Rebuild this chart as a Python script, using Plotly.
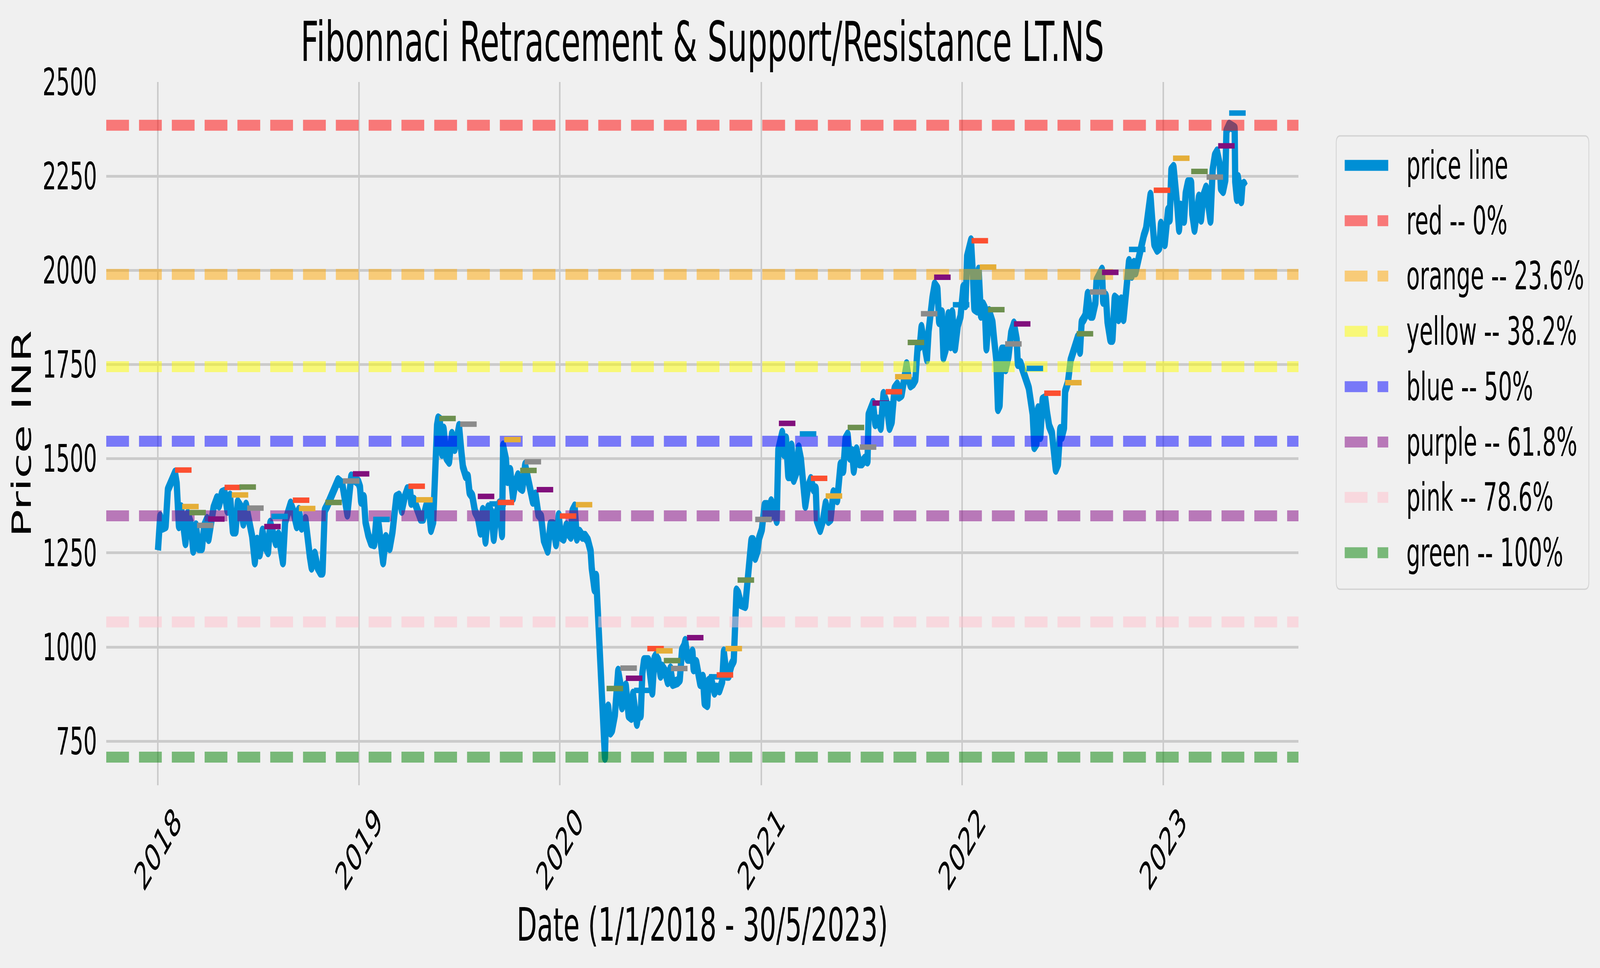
import pandas as pd
import plotly.graph_objects as go

# LT.NS closing price (INR)
price_dates = [
    "2018-01-01", "2018-01-03", "2018-01-05", "2018-01-09", "2018-01-15", "2018-01-19", "2018-01-26",
    "2018-02-01", "2018-02-04", "2018-02-06", "2018-02-08", "2018-02-12", "2018-02-17", "2018-02-20",
    "2018-02-24", "2018-03-01", "2018-03-06", "2018-03-11", "2018-03-16", "2018-03-22", "2018-03-26",
    "2018-03-31", "2018-04-03", "2018-04-07", "2018-04-12", "2018-04-18", "2018-04-22", "2018-04-27",
    "2018-05-02", "2018-05-07", "2018-05-12", "2018-05-17", "2018-05-22", "2018-05-26", "2018-05-31",
    "2018-06-05", "2018-06-10", "2018-06-15", "2018-06-21", "2018-06-26", "2018-06-30", "2018-07-05",
    "2018-07-10", "2018-07-15", "2018-07-20", "2018-07-24", "2018-07-29", "2018-08-03", "2018-08-08",
    "2018-08-16", "2018-08-20", "2018-08-25", "2018-08-30", "2018-09-04", "2018-09-10", "2018-09-14",
    "2018-09-19", "2018-09-26", "2018-09-30", "2018-10-04", "2018-10-07", "2018-10-13", "2018-10-18",
    "2018-10-23", "2018-10-27", "2018-10-31", "2018-11-05", "2018-11-10", "2018-11-17", "2018-11-24",
    "2018-12-02", "2018-12-07", "2018-12-11", "2018-12-18", "2018-12-24", "2018-12-31",
    "2019-01-03", "2019-01-05", "2019-01-10", "2019-01-13", "2019-01-18", "2019-01-23", "2019-01-29",
    "2019-02-01", "2019-02-06", "2019-02-11", "2019-02-14", "2019-02-19", "2019-02-26", "2019-03-03",
    "2019-03-07", "2019-03-10", "2019-03-15", "2019-03-20", "2019-03-25", "2019-03-30", "2019-04-04",
    "2019-04-06", "2019-04-11", "2019-04-16", "2019-04-23", "2019-04-28", "2019-05-03", "2019-05-08",
    "2019-05-12", "2019-05-16", "2019-05-18", "2019-05-20", "2019-05-23", "2019-05-25", "2019-05-28",
    "2019-06-01", "2019-06-04", "2019-06-09", "2019-06-14", "2019-06-19", "2019-06-24", "2019-06-29",
    "2019-07-02", "2019-07-06", "2019-07-09", "2019-07-14", "2019-07-18", "2019-07-21", "2019-07-26",
    "2019-07-31", "2019-08-05", "2019-08-10", "2019-08-14", "2019-08-19", "2019-08-24", "2019-08-29",
    "2019-09-03", "2019-09-08", "2019-09-13", "2019-09-18", "2019-09-20", "2019-09-25", "2019-09-28",
    "2019-10-03", "2019-10-08", "2019-10-12", "2019-10-17", "2019-10-21", "2019-10-25", "2019-10-30",
    "2019-11-04", "2019-11-09", "2019-11-13", "2019-11-18", "2019-11-23", "2019-11-28", "2019-12-03",
    "2019-12-10", "2019-12-15", "2019-12-20", "2019-12-25", "2019-12-30",
    "2020-01-03", "2020-01-08", "2020-01-13", "2020-01-18", "2020-01-21", "2020-01-24", "2020-01-28",
    "2020-02-01", "2020-02-06", "2020-02-11", "2020-02-16", "2020-02-21", "2020-02-26", "2020-02-28",
    "2020-03-02", "2020-03-04", "2020-03-07", "2020-03-09", "2020-03-12", "2020-03-14", "2020-03-18",
    "2020-03-20", "2020-03-23", "2020-03-25", "2020-03-29", "2020-04-02", "2020-04-05", "2020-04-10",
    "2020-04-14", "2020-04-16", "2020-04-20", "2020-04-23", "2020-04-26", "2020-04-30", "2020-05-05",
    "2020-05-10", "2020-05-13", "2020-05-17", "2020-05-20", "2020-05-23", "2020-05-27", "2020-05-30",
    "2020-06-02", "2020-06-10", "2020-06-13", "2020-06-17", "2020-06-21", "2020-06-23", "2020-06-28",
    "2020-07-02", "2020-07-05", "2020-07-10", "2020-07-15", "2020-07-20", "2020-07-24", "2020-07-28",
    "2020-08-02", "2020-08-06", "2020-08-10", "2020-08-14", "2020-08-16", "2020-08-20", "2020-08-24",
    "2020-08-29", "2020-08-31", "2020-09-05", "2020-09-09", "2020-09-12", "2020-09-17", "2020-09-20",
    "2020-09-25", "2020-09-27", "2020-10-02", "2020-10-08", "2020-10-12", "2020-10-17", "2020-10-22",
    "2020-10-25", "2020-10-30", "2020-11-03", "2020-11-08", "2020-11-12", "2020-11-14", "2020-11-17",
    "2020-11-20", "2020-11-25", "2020-12-03", "2020-12-06", "2020-12-10", "2020-12-14", "2020-12-17",
    "2020-12-21", "2020-12-25", "2020-12-28",
    "2021-01-02", "2021-01-07", "2021-01-12", "2021-01-17", "2021-01-19", "2021-01-24", "2021-01-29",
    "2021-02-01", "2021-02-03", "2021-02-08", "2021-02-11", "2021-02-15", "2021-02-19", "2021-02-23",
    "2021-02-25", "2021-03-01", "2021-03-06", "2021-03-10", "2021-03-14", "2021-03-18", "2021-03-22",
    "2021-03-27", "2021-04-01", "2021-04-06", "2021-04-10", "2021-04-12", "2021-04-18", "2021-04-23",
    "2021-04-28", "2021-05-03", "2021-05-07", "2021-05-12", "2021-05-19", "2021-05-25", "2021-05-30",
    "2021-06-03", "2021-06-07", "2021-06-11", "2021-06-15", "2021-06-18", "2021-06-23", "2021-06-28",
    "2021-07-03", "2021-07-08", "2021-07-13", "2021-07-15", "2021-07-19", "2021-07-23", "2021-07-27",
    "2021-08-01", "2021-08-06", "2021-08-11", "2021-08-16", "2021-08-22", "2021-08-26", "2021-08-31",
    "2021-09-05", "2021-09-08", "2021-09-13", "2021-09-17", "2021-09-22", "2021-09-26", "2021-09-29",
    "2021-10-04", "2021-10-08", "2021-10-12", "2021-10-16", "2021-10-19", "2021-10-24", "2021-10-29",
    "2021-11-01", "2021-11-05", "2021-11-08", "2021-11-12", "2021-11-17", "2021-11-20", "2021-11-25",
    "2021-11-28", "2021-12-02", "2021-12-07", "2021-12-11", "2021-12-14", "2021-12-19", "2021-12-24",
    "2021-12-29",
    "2022-01-03", "2022-01-07", "2022-01-10", "2022-01-14", "2022-01-17", "2022-01-20", "2022-01-23",
    "2022-01-28", "2022-01-31", "2022-02-04", "2022-02-08", "2022-02-11", "2022-02-14", "2022-02-19",
    "2022-02-25", "2022-02-28", "2022-03-04", "2022-03-07", "2022-03-10", "2022-03-14", "2022-03-18",
    "2022-03-21", "2022-03-26", "2022-03-31", "2022-04-05", "2022-04-10", "2022-04-12", "2022-04-17",
    "2022-04-22", "2022-04-26", "2022-04-30", "2022-05-02", "2022-05-06", "2022-05-09", "2022-05-12",
    "2022-05-16", "2022-05-19", "2022-05-23", "2022-05-27", "2022-06-01", "2022-06-04", "2022-06-08",
    "2022-06-13", "2022-06-17", "2022-06-20", "2022-06-24", "2022-06-28", "2022-07-01", "2022-07-05",
    "2022-07-07", "2022-07-12", "2022-07-17", "2022-07-22", "2022-07-26", "2022-07-30", "2022-08-03",
    "2022-08-06", "2022-08-10", "2022-08-13", "2022-08-17", "2022-08-22", "2022-08-26", "2022-08-31",
    "2022-09-02", "2022-09-07", "2022-09-12", "2022-09-14", "2022-09-19", "2022-09-22", "2022-09-27",
    "2022-10-01", "2022-10-05", "2022-10-09", "2022-10-12", "2022-10-17", "2022-10-21", "2022-10-26",
    "2022-10-31", "2022-11-05", "2022-11-09", "2022-11-12", "2022-11-17", "2022-11-22", "2022-11-27",
    "2022-12-01", "2022-12-05", "2022-12-09", "2022-12-12", "2022-12-16", "2022-12-21", "2022-12-25",
    "2022-12-28", "2022-12-31",
    "2023-01-04", "2023-01-06", "2023-01-10", "2023-01-13", "2023-01-16", "2023-01-20", "2023-01-24",
    "2023-01-27", "2023-01-30", "2023-02-02", "2023-02-06", "2023-02-08", "2023-02-11", "2023-02-15",
    "2023-02-21", "2023-02-23", "2023-02-27", "2023-03-03", "2023-03-07", "2023-03-11", "2023-03-15",
    "2023-03-20", "2023-03-26", "2023-03-28", "2023-04-01", "2023-04-05", "2023-04-09", "2023-04-14",
    "2023-04-16", "2023-04-20", "2023-04-24", "2023-04-26", "2023-05-01", "2023-05-07", "2023-05-11",
    "2023-05-12", "2023-05-15", "2023-05-17", "2023-05-20", "2023-05-23", "2023-05-25", "2023-05-28",
    "2023-05-30",
]
price_close = [
    1257, 1318, 1346, 1318, 1322, 1418, 1445,
    1462, 1435, 1332, 1322, 1370, 1281, 1277,
    1353, 1332, 1257, 1322, 1264, 1264, 1322,
    1339, 1288, 1322, 1370, 1394, 1377, 1408,
    1411, 1363, 1401, 1308, 1308, 1384, 1373,
    1329, 1377, 1339, 1295, 1226, 1284, 1247,
    1308, 1267, 1253, 1329, 1308, 1277, 1298,
    1226, 1332, 1360, 1380, 1360, 1322, 1363,
    1318, 1339, 1267, 1240, 1212, 1247, 1212,
    1199, 1199, 1363, 1377, 1397, 1425, 1442,
    1432, 1370, 1353, 1452, 1445, 1438,
    1425, 1387, 1397, 1332, 1298, 1277, 1274,
    1329, 1325, 1247, 1226, 1291, 1264, 1305,
    1366, 1397, 1401, 1363, 1397, 1418, 1418,
    1384, 1390, 1366, 1342, 1342, 1373, 1373,
    1312, 1332, 1452, 1486, 1589, 1606, 1603,
    1514, 1579, 1503, 1493, 1565, 1527, 1562,
    1586, 1521, 1479, 1455, 1452, 1411, 1401,
    1360, 1346, 1305, 1363, 1281, 1370, 1360,
    1288, 1356, 1380, 1298, 1534, 1500, 1442,
    1469, 1397, 1435, 1455, 1425, 1421, 1483,
    1445, 1421, 1387, 1404, 1353, 1346, 1284,
    1257, 1325, 1325, 1274, 1349,
    1294, 1289, 1322, 1300, 1294, 1361, 1372,
    1289, 1305, 1294, 1294, 1283, 1255, 1210,
    1182, 1154, 1188, 1121, 1115, 1015, 869,
    752, 707, 830, 841, 774, 780, 819,
    897, 936, 903, 841, 869, 897, 819,
    813, 875, 819, 797, 824, 819, 931,
    964, 964, 925, 880, 970, 975, 964,
    925, 947, 936, 908, 942, 903, 903,
    908, 914, 992, 1003, 1015, 970, 970,
    987, 942, 959, 914, 903, 920, 852,
    847, 908, 914, 880, 891, 886, 908,
    987, 925, 925, 953, 964, 1037, 1149,
    1143, 1115, 1110, 1177, 1221, 1283, 1283,
    1238, 1255, 1289,
    1312, 1376, 1376, 1346, 1386, 1366, 1336,
    1524, 1534, 1568, 1514, 1553, 1455, 1455,
    1534, 1445, 1465, 1529, 1499, 1410, 1376,
    1425, 1445, 1420, 1420, 1336, 1312, 1336,
    1381, 1336, 1341, 1410, 1391, 1484, 1469,
    1553, 1563, 1504, 1519, 1469, 1524, 1489,
    1489, 1499, 1494, 1617, 1632, 1647, 1593,
    1603, 1583, 1671, 1652, 1583, 1598, 1686,
    1696, 1666, 1671, 1711, 1750, 1711, 1696,
    1701, 1711, 1795, 1800, 1849, 1790, 1765,
    1839, 1908, 1928, 1962, 1952, 1864, 1888,
    1770, 1790, 1883, 1800, 1888, 1794, 1854,
    1878,
    1955, 1909, 2038, 2075, 2079, 2001, 1900,
    1895, 2001, 1881, 1909, 1900, 1794, 1891,
    1863, 1817, 1762, 1633, 1642, 1789, 1789,
    1739, 1771, 1835, 1858, 1817, 1753, 1753,
    1725, 1720, 1697, 1688, 1660, 1619, 1532,
    1541, 1633, 1559, 1656, 1660, 1624, 1587,
    1569, 1504, 1472, 1486, 1578, 1559, 1582,
    1679, 1702, 1762, 1789, 1817, 1822, 1785,
    1863, 1872, 1881, 1937, 1881, 1881, 1914,
    1973, 1987, 2001, 1918, 1932, 1863, 1817,
    1817, 1927, 1922, 1872, 1922, 1872, 1946,
    2024, 1987, 2019, 1996, 2033, 2065, 2093,
    2111, 2180, 2200, 2140, 2070, 2056, 2061,
    2123, 2112,
    2071, 2119, 2160, 2136, 2267, 2274, 2226,
    2167, 2109, 2171, 2157, 2133, 2205, 2233,
    2233, 2150, 2109, 2164, 2195, 2136, 2198,
    2219, 2150, 2133, 2267, 2305, 2315, 2281,
    2219, 2212, 2240, 2370, 2386, 2381, 2377,
    2236, 2191, 2247, 2188, 2185, 2226, 2229,
    2222,
]

# Fibonacci retracement levels
fib_labels = ["red -- 0%", "orange -- 23.6%", "yellow -- 38.2%", "blue -- 50%",
              "purple -- 61.8%", "pink -- 78.6%", "green -- 100%"]
fib_levels = [2385.6, 1989.6, 1744.6, 1546.6, 1348.6, 1066.7, 707.6]
fib_colors = ["rgba(255,0,0,0.5)", "rgba(255,165,0,0.5)", "rgba(255,255,0,0.5)",
              "rgba(0,0,255,0.5)", "rgba(128,0,128,0.5)", "rgba(255,192,203,0.5)",
              "rgba(0,128,0,0.5)"]

# support / resistance pivots: start date and level, each drawn for 30 days
sr_start = [
    "2018-02-01", "2018-02-14", "2018-02-27", "2018-03-13", "2018-04-02", "2018-04-17",
    "2018-05-02", "2018-05-15", "2018-05-29", "2018-06-12", "2018-07-13", "2018-07-26",
    "2018-09-03", "2018-09-14", "2018-11-01", "2018-12-03", "2018-12-21", "2019-01-27",
    "2019-04-01", "2019-04-15", "2019-05-27", "2019-07-04", "2019-08-05", "2019-08-26",
    "2019-09-10", "2019-09-22", "2019-10-21", "2019-10-29", "2019-11-20", "2019-12-10",
    "2020-01-01", "2020-01-30", "2020-03-26", "2020-04-20", "2020-04-30", "2020-05-15",
    "2020-06-08", "2020-06-24", "2020-07-08", "2020-07-21", "2020-08-19", "2020-09-28",
    "2020-10-12", "2020-10-28", "2020-11-19", "2020-12-21", "2021-02-02", "2021-03-12",
    "2021-04-01", "2021-04-28", "2021-06-07", "2021-06-29", "2021-07-22", "2021-08-04",
    "2021-08-15", "2021-09-01", "2021-09-24", "2021-10-18", "2021-11-11", "2021-12-15",
    "2022-01-18", "2022-02-02", "2022-02-17", "2022-03-20", "2022-04-05", "2022-04-28",
    "2022-05-30", "2022-07-07", "2022-07-28", "2022-08-21", "2022-09-12", "2022-10-31",
    "2022-12-15", "2023-01-19", "2023-02-21", "2023-03-21", "2023-04-11", "2023-05-01",
]
sr_level = [
    1470, 1373, 1357, 1323, 1340, 1395,
    1424, 1404, 1425, 1369, 1320, 1347,
    1390, 1368, 1384, 1441, 1460, 1339,
    1427, 1391, 1607, 1592, 1400, 1380,
    1384, 1551, 1469, 1492, 1418, 1310,
    1348, 1378, 890, 944, 917, 885,
    996, 990, 964, 943, 1025, 921,
    926, 996, 1178, 1339, 1594, 1566,
    1448, 1401, 1583, 1531, 1648, 1646,
    1678, 1718, 1809, 1885, 1982, 1909,
    2079, 2009, 1896, 1805, 1858, 1740,
    1674, 1702, 1832, 1943, 1995, 2056,
    2213, 2298, 2263, 2248, 2331, 2418,
]
sr_days = 30

# fivethirtyeight colour cycle
cycle = ["#008fd5", "#fc4f30", "#e5ae38", "#6d904f", "#8b8b8b", "#810f7c"]

year_ticks = ["2018", "2019", "2020", "2021", "2022", "2023"]
y_ticks = [750, 1000, 1250, 1500, 1750, 2000, 2250, 2500]
x_range = ["2017-09-29", "2023-09-04"]
y_range = [633, 2500.5]

# page / plot area in pixels
W, H = 7170, 2479
L, R, T, B = 476, 5819, 210, 2011
FONT = "DejaVu Sans"


def px(x):
    return (x - L) / (R - L)


def py(y):
    return (B - y) / (B - T)


fig = go.Figure()

fig.add_trace(go.Scatter(x=pd.to_datetime(price_dates), y=price_close, mode="lines",
                         name="price line", line=dict(color=cycle[0], width=28)))

for lab, lvl, col in zip(fib_labels, fib_levels, fib_colors):
    fig.add_trace(go.Scatter(x=x_range, y=[lvl, lvl], mode="lines", name=lab,
                             line=dict(color=col, width=28, dash="102px,45px")))

starts = pd.to_datetime(sr_start)
for i, (s, lvl) in enumerate(zip(starts, sr_level)):
    fig.add_trace(go.Scatter(x=[s, s + pd.Timedelta(days=sr_days)], y=[lvl, lvl],
                             mode="lines", showlegend=False,
                             line=dict(color=cycle[(i + 1) % 6], width=14)))

# rotated year labels, centred under each gridline like matplotlib
for yr in year_ticks:
    fig.add_annotation(x=yr + "-01-01", y=0, xref="x", yref="paper", text=yr,
                       textangle=-45, xanchor="center", yanchor="middle", yshift=-163,
                       showarrow=False, font=dict(family=FONT, size=98, color="black"))

# legend drawn by hand so the handles have matplotlib's length
bx0, bx1, by0, by1 = 5988, 7120, 348, 1509
rr = 18
rx, ry = rr / (R - L), rr / (B - T)
box = (f"M {px(bx0) + rx},{py(by0)} L {px(bx1) - rx},{py(by0)} "
       f"Q {px(bx1)},{py(by0)} {px(bx1)},{py(by0) - ry} "
       f"L {px(bx1)},{py(by1) + ry} Q {px(bx1)},{py(by1)} {px(bx1) - rx},{py(by1)} "
       f"L {px(bx0) + rx},{py(by1)} Q {px(bx0)},{py(by1)} {px(bx0)},{py(by1) + ry} "
       f"L {px(bx0)},{py(by0) - ry} Q {px(bx0)},{py(by0)} {px(bx0) + rx},{py(by0)} Z")
fig.add_shape(type="path", path=box, xref="paper", yref="paper",
              fillcolor="rgba(240,240,240,0.8)", line=dict(color="#d3d3d3", width=3.5),
              layer="above")

leg_names = ["price line"] + fib_labels
leg_colors = [cycle[0]] + fib_colors
for k, (nm, col) in enumerate(zip(leg_names, leg_colors)):
    yc = 423.5 + k * 141.7
    fig.add_shape(type="line", xref="paper", yref="paper",
                  x0=px(6026), x1=px(6221), y0=py(yc), y1=py(yc),
                  line=dict(color=col, width=28, dash="solid" if k == 0 else "102px,45px"),
                  layer="above")
    fig.add_annotation(x=px(6300), y=py(yc), xref="paper", yref="paper", text=nm,
                       xanchor="left", yanchor="middle", showarrow=False,
                       font=dict(family=FONT, size=99, color="black"))

fig.update_layout(
    width=W, height=H,
    margin=dict(l=L, r=W - R, t=T, b=H - B, pad=0, autoexpand=False),
    paper_bgcolor="#f0f0f0", plot_bgcolor="#f0f0f0",
    showlegend=False,
    font=dict(family=FONT, size=98, color="black"),
    title=dict(text="Fibonnaci Retracement & Support/Resistance LT.NS",
               x=0.5, xref="paper", xanchor="center",
               y=1 - 107 / H, yref="container", yanchor="middle",
               font=dict(family=FONT, size=141, color="black")),
)
fig.update_xaxes(type="date", range=x_range,
                 tickvals=[y + "-01-01" for y in year_ticks], showticklabels=False,
                 showgrid=True, gridcolor="#cbcbcb", gridwidth=7,
                 zeroline=False, showline=False, ticks="",
                 title=dict(text="Date (1/1/2018 - 30/5/2023)", standoff=315,
                            font=dict(family=FONT, size=118, color="black")))
fig.update_yaxes(range=y_range, tickvals=y_ticks,
                 showgrid=True, gridcolor="#cbcbcb", gridwidth=7,
                 zeroline=False, showline=False, ticks="", ticklabelstandoff=40,
                 tickfont=dict(family=FONT, size=96, color="black"),
                 title=dict(text="Price INR", standoff=12,
                            font=dict(family=FONT, size=118, color="black")))

# the headless window can be narrower than the figure: fit the whole figure into it
fit_js = (
    "document.documentElement.style.overflow='hidden';"
    "document.body.style.margin='0';document.body.style.overflow='hidden';"
    "document.querySelectorAll('.scatterlayer .js-line').forEach(function(p){"
    "p.style.strokeLinejoin='round';});"
    "var gd=document.getElementById('{plot_id}');"
    "var sx=Math.min(1,window.innerWidth/" + str(W) + "),sy=Math.min(1,window.innerHeight/" + str(H) + ");"
    "gd.style.transformOrigin='0 0';gd.style.transform='scale('+sx+','+sy+')';"
)
fig.write_html("out.html", config={"displayModeBar": False}, post_script=fit_js)
